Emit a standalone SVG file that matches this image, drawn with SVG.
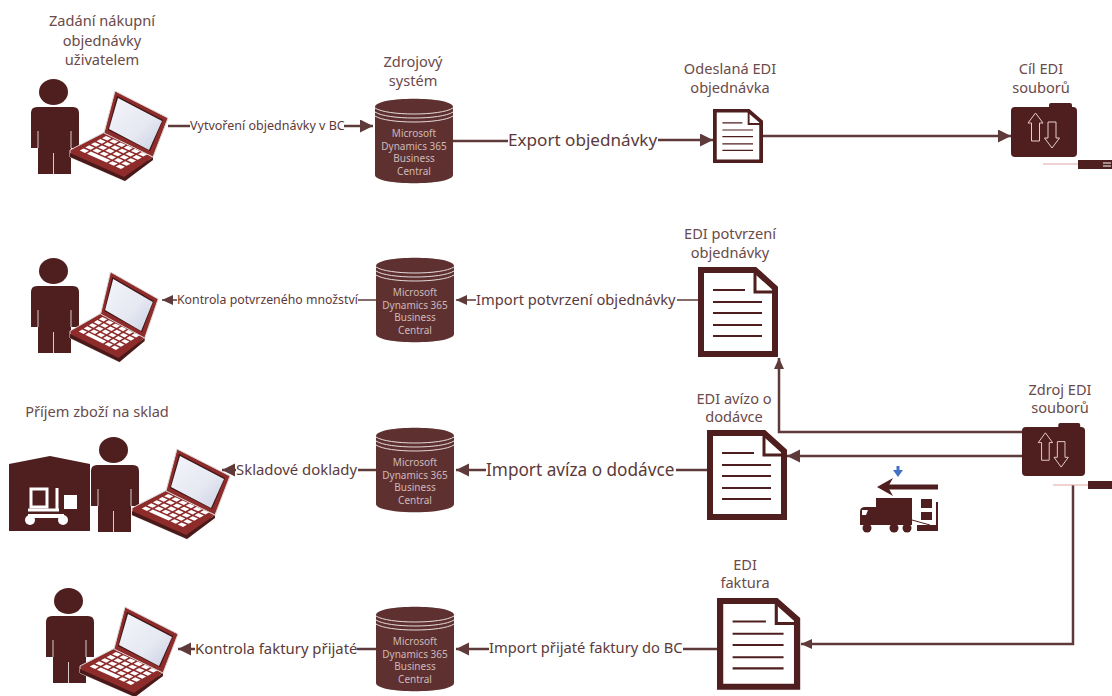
<svg xmlns="http://www.w3.org/2000/svg" xmlns:xlink="http://www.w3.org/1999/xlink" width="1112" height="696" viewBox="0 0 1112 696">
<style>
text{font-family:"Noto Sans","Open Sans","DejaVu Sans",sans-serif;fill:#6a4a4a}
.t{font-size:14.6px;text-anchor:middle}
.l{fill:#5c3a3a}
.db{fill:#cdb9b9;font-size:10px;text-anchor:middle}
.c{fill:none;stroke:#5f3a3a;stroke-width:2.5}
.n{fill:none;stroke:#5f3a3a;stroke-width:1.5}
.a{marker-end:url(#ah)}
.s{marker-end:url(#as)}
.dark{fill:#4f1e1e}
</style>
<defs>
<marker id="ah" markerUnits="userSpaceOnUse" markerWidth="14" markerHeight="14" refX="13" refY="6.5" orient="auto"><path d="M0,0L13,6.5L0,13Z" fill="#5f3a3a"/></marker>
<marker id="as" markerUnits="userSpaceOnUse" markerWidth="12" markerHeight="12" refX="11" refY="5" orient="auto"><path d="M0,0L11,5L0,10Z" fill="#5f3a3a"/></marker>
<linearGradient id="scr" x1="0" y1="0" x2="1" y2="1"><stop offset="0" stop-color="#f4f5fb"/><stop offset=".6" stop-color="#e6e8f2"/><stop offset="1" stop-color="#c9cfe2"/></linearGradient>
<g id="person">
<ellipse cx="53.5" cy="92" rx="14.5" ry="13" class="dark"/>
<path class="dark" d="M37,107H73Q79,107 79,113V148H71V174H38V148H31V113Q31,107 37,107Z"/>
<path d="M38,131V148M71,131V148M53.5,153V174" stroke="#d9cccc" stroke-width="1" fill="none"/>
</g>
<g id="keys" fill="#fff">
<rect x="0" y="0" width=".74" height=".7"/><rect x="1" y="0" width=".74" height=".7"/><rect x="2" y="0" width=".74" height=".7"/><rect x="3" y="0" width=".74" height=".7"/><rect x="4" y="0" width=".74" height=".7"/><rect x="5" y="0" width=".74" height=".7"/>
<rect x="0" y="1" width=".74" height=".7"/><rect x="1" y="1" width=".74" height=".7"/><rect x="2" y="1" width=".74" height=".7"/><rect x="3" y="1" width=".74" height=".7"/><rect x="4" y="1" width=".74" height=".7"/><rect x="5" y="1" width=".74" height=".7"/>
<rect x="0" y="2" width=".74" height=".7"/><rect x="1" y="2" width=".74" height=".7"/><rect x="2" y="2" width=".74" height=".7"/><rect x="3" y="2" width=".74" height=".7"/><rect x="4" y="2" width=".74" height=".7"/><rect x="5" y="2" width=".74" height=".7"/>
<rect x="0" y="3" width=".74" height=".7"/><rect x="1" y="3" width=".74" height=".7"/><rect x="2" y="3" width=".74" height=".7"/><rect x="3" y="3" width=".74" height=".7"/><rect x="4" y="3" width=".74" height=".7"/><rect x="5" y="3" width=".74" height=".7"/>
<rect x="0" y="4" width=".74" height=".7"/><rect x="1" y="4" width="2.74" height=".7"/><rect x="4" y="4" width=".74" height=".7"/><rect x="5" y="4" width=".74" height=".7"/>
</g>
<g id="laptop">
<path d="M70,150L105,132L153,157L125,181L70,157Z" fill="#8e2b2b" stroke="#dcd6d6" stroke-width="1"/>
<path d="M70,153L124,177L153,157L153,160L125,181L70,157Z" fill="#4a1a1a"/>
<use xlink:href="#keys" transform="matrix(7.2,3.2,-5.6,3.1,106,136)"/>
<path d="M115,91L168,118L153,157L104,133Z" fill="#8e2b2b" stroke="#dcd6d6" stroke-width="1"/>
<path d="M117,96L163,120L150,151L108,130Z" fill="#3d1616"/>
<path d="M118,98L162,121L149,150L109,129Z" fill="url(#scr)"/>
</g>
<g id="db">
<path d="M0,8C0,-3 78,-3 78,8V76C78,87 0,87 0,76Z" fill="#5e3030"/>
<path d="M0,9C12,17 66,17 78,9M0,13C12,21 66,21 78,13M0,17C12,25 66,25 78,17" fill="none" stroke="#e6dcdc" stroke-width="1"/>
<text class="db" x="39" y="37.5">Microsoft</text>
<text class="db" x="39" y="50.5">Dynamics 365</text>
<text class="db" x="39" y="62.5">Business</text>
<text class="db" x="39" y="75.5">Central</text>
</g>
<g id="doc">
<path d="M3,3H57L77,21V87H3Z" fill="#fff" stroke="#4f1e1e" stroke-width="6"/>
<path d="M57,3V25H77" fill="none" stroke="#4f1e1e" stroke-width="3"/>
<path d="M15,23H47M15,35H64M15,46H64M15,58H64M15,69H64" stroke="#4f1e1e" stroke-width="2" fill="none"/>
</g>
<g id="folder">
<path class="dark" d="M4,4H38V2Q38,0 40,0H59Q61,0 61,2V4H62Q66,4 66,8V50Q66,54 62,54H4Q0,54 0,50V8Q0,4 4,4Z"/>
<path d="M24.5,10L32,20H28.5V38H20.5V20H17Z" fill="none" stroke="#e6cfcf" stroke-width="1"/>
<path d="M41,45L33.5,35H37V19H45V35H48.5Z" fill="none" stroke="#e6cfcf" stroke-width="1"/>
</g>
</defs>
<rect width="1112" height="696" fill="#fff"/>

<g id="connectors">
<path class="c" d="M168,126H190"/>
<path class="c a" d="M344,126H373"/>
<path class="c" d="M453,141H508"/>
<path class="c a" d="M658,140H713"/>
<path class="c a" d="M763,136H1011"/>
<path class="n" d="M698,300H677"/>
<path class="n s" d="M476,300H456"/>
<path class="n" d="M376,300H358"/>
<path class="n s" d="M177,300H162"/>
<path class="c s" d="M1022,432H779V358"/>
<path class="c a" d="M1022,456H787"/>
<path class="c" d="M707,470H676"/>
<path class="c a" d="M486,470H456"/>
<path class="c" d="M376,470H358"/>
<path class="c a" d="M236,470H222"/>
<path class="c s" d="M1073,485V644H801"/>
<path class="c" d="M717,649H683"/>
<path class="c a" d="M489,649H456"/>
<path class="c" d="M376,649H357"/>
<path class="c a" d="M195,649H178"/>
</g>

<g id="user-1">
<use xlink:href="#person"/><use xlink:href="#laptop"/>
<text class="t" x="102" y="26">Zadání nákupní</text>
<text class="t" x="102" y="46">objednávky</text>
<text class="t" x="102" y="65">uživatelem</text>
</g>
<g id="user-2">
<use xlink:href="#person" transform="translate(0,179)"/><use xlink:href="#laptop" transform="translate(7,181) scale(.9,1)"/>
</g>
<g id="user-3">
<text class="t" x="97" y="417">Příjem zboží na sklad</text>
<g id="warehouse">
<path class="dark" d="M9,464L50,456L90,464V531H9Z"/>
<g fill="none" stroke="#fff" stroke-width="3">
<path d="M31,489H47V507H31Z"/>
<path d="M28,510H59M57,488V510"/>
</g>
<rect x="64" y="495" width="13" height="14" fill="#fff"/>
<rect x="28" y="514" width="36" height="4" fill="#fff"/>
<circle cx="30" cy="520" r="5" fill="#fff"/><circle cx="63" cy="520" r="5" fill="#fff"/>
</g>
<use xlink:href="#person" transform="translate(60,358)"/><use xlink:href="#laptop" transform="translate(62,358)"/>
</g>
<g id="user-4">
<use xlink:href="#person" transform="translate(15,509)"/><use xlink:href="#laptop" transform="translate(10,516)"/>
</g>

<g id="db-1"><use xlink:href="#db" transform="translate(375,99)"/>
<text class="t" x="413" y="67">Zdrojový</text><text class="t" x="413" y="86">systém</text></g>
<g id="db-2"><use xlink:href="#db" transform="translate(376,258)"/></g>
<g id="db-3"><use xlink:href="#db" transform="translate(376,428)"/></g>
<g id="db-4"><use xlink:href="#db" transform="translate(376,607)"/></g>

<g id="doc-1"><use xlink:href="#doc" transform="translate(713,109) scale(.625,.6)"/>
<text class="t" x="730" y="74">Odeslaná EDI</text><text class="t" x="730" y="93">objednávka</text></g>
<g id="doc-2"><use xlink:href="#doc" transform="translate(698,267)"/>
<text class="t" x="730" y="239">EDI potvrzení</text><text class="t" x="730" y="258">objednávky</text></g>
<g id="doc-3"><use xlink:href="#doc" transform="translate(707,430)"/>
<text class="t" x="734" y="404">EDI avízo o</text><text class="t" x="734" y="422">dodávce</text></g>
<g id="doc-4"><use xlink:href="#doc" transform="translate(717,598) scale(1.04,1.02)"/>
<text class="t" x="745" y="570">EDI</text><text class="t" x="745" y="588">faktura</text></g>

<g id="target">
<use xlink:href="#folder" transform="translate(1011,103)"/>
<text class="t" x="1041" y="74">Cíl EDI</text><text class="t" x="1041" y="93">souborů</text>
<path d="M1043,164H1078" stroke="#e2a5a5" stroke-width="1"/>
<rect x="1078" y="160" width="34" height="9" class="dark"/>
<path d="M1103,163H1111M1103,166H1111" stroke="#fff" stroke-width="1"/>
</g>
<g id="source">
<use xlink:href="#folder" transform="translate(1022,423) scale(.955,.98)"/>
<text class="t" x="1060" y="395">Zdroj EDI</text><text class="t" x="1060" y="413">souborů</text>
<path d="M1053,485H1088" stroke="#e2a5a5" stroke-width="1"/>
<rect x="1088" y="481" width="24" height="8" class="dark"/>
</g>

<g id="truck">
<path d="M896.500,466H899.500V470H903L898,477L893,470H896.500Z" fill="#4472c4"/>
<path d="M938,487H882" stroke="#4f1e1e" stroke-width="5" fill="none"/>
<path d="M893,478L877,487L893,496L888,487Z" class="dark"/>
<rect x="876" y="498" width="36" height="27" class="dark"/>
<path class="dark" d="M860,512Q860,507 865,507H876V525H860Z"/>
<path d="M862,510H868L866,515H862Z" fill="#fff"/>
<circle cx="867" cy="528" r="4.5" class="dark"/><circle cx="894" cy="528" r="4.5" class="dark"/><circle cx="907" cy="528" r="4.5" class="dark"/>
<rect x="921" y="499" width="11" height="9" class="dark"/><rect x="921" y="512" width="11" height="8" class="dark"/>
<rect x="936" y="502" width="2" height="29" class="dark"/><rect x="917" y="525" width="21" height="6" class="dark"/>
<path d="M912,520L930,525" stroke="#4f1e1e" stroke-width="1"/>
</g>

<g id="labels">
<text class="l" x="190" y="130" font-size="12.5">Vytvoření objednávky v BC</text>
<text class="l" x="508" y="146" font-size="17.100">Export objednávky</text>
<text class="l" x="476" y="305" font-size="14.700">Import potvrzení objednávky</text>
<text class="l" x="177" y="304" font-size="12.300">Kontrola potvrzeného množství</text>
<text class="l" x="486" y="476" font-size="17.200">Import avíza o dodávce</text>
<text class="l" x="236" y="475" font-size="14.900">Skladové doklady</text>
<text class="l" x="489" y="653" font-size="14.700">Import přijaté faktury do BC</text>
<text class="l" x="195" y="654" font-size="14.900">Kontrola faktury přijaté</text>
</g>
</svg>
